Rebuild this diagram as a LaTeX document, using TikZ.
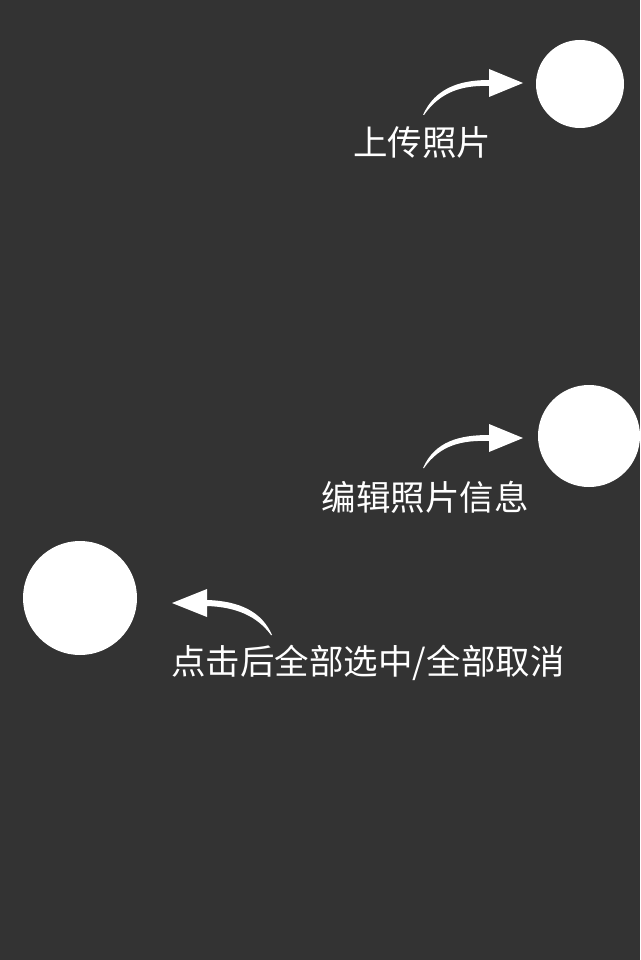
\documentclass[tikz,border=0pt]{standalone}
\usepackage{fontspec}
\newfontfamily\cjk{Noto Sans CJK SC}
\usetikzlibrary{calc}
\definecolor{bgcolor}{HTML}{333333}

\begin{document}
\begin{tikzpicture}[x=1pt,y=-1pt]
  \fill[bgcolor] (0,0) rectangle (640,960);
  \useasboundingbox (0,0) rectangle (640,960);
  \begin{scope}[
    every node/.style={
      circle,
      fill=white,
      inner sep=0pt,
    },
    ]
    \node[minimum size=88pt]  (upload-btn) at (580,84)  {};
    \node[minimum size=102pt] (edit-btn)   at (589,436) {};
    \node[minimum size=114pt] (select-btn) at (80,598)  {};
  \end{scope}
  \begin{scope}[
    every node/.style={
      anchor=center,
      inner sep=0pt,
      text=white,
      font=\cjk\fontsize{34.5}{34.5}\selectfont,
    },
    ]
    \node (upload-txt) at (422,142) {上传照片};
    \node (edit-txt)   at (425,497) {编辑照片信息};
    \node (select-txt) at (368,663) {点击后全部选中/全部取消};
  \end{scope}
  \coordinate (upload-tail) at (423,115);
  \coordinate (upload-tip)  at (523,83);
  \coordinate (edit-tail)   at (423,468);
  \coordinate (edit-tip)    at (523,438);
  \coordinate (select-tail) at (272,635);
  \coordinate (select-tip)  at (172,603);
  % right hand arrows
  \foreach \a in {upload,edit}{
    \fill[white] (\a-tail) .. controls +(12,-27) and +(-29,0)
      .. ($(\a-tip)+(-34,-3)$) -- ($(\a-tip)+(-34,-14)$) -- (\a-tip)
      -- ($(\a-tip)+(-34,14)$) -- ($(\a-tip)+(-34,3)$)
      .. controls +(-27,-1) and +(16,-23) .. ($(\a-tail)+(1,0)$) -- cycle;
  }
  % left hand arrow
  \fill[white] (select-tail) .. controls +(-10,-23) and +(33,1)
    .. ($(select-tip)+(35,-3)$) -- ($(select-tip)+(35,-14)$) -- (select-tip)
    -- ($(select-tip)+(35,14)$) -- ($(select-tip)+(35,3)$)
    .. controls +(29,1) and +(-14,-19) .. ($(select-tail)+(-1,0)$) -- cycle;
\end{tikzpicture}
\end{document}
